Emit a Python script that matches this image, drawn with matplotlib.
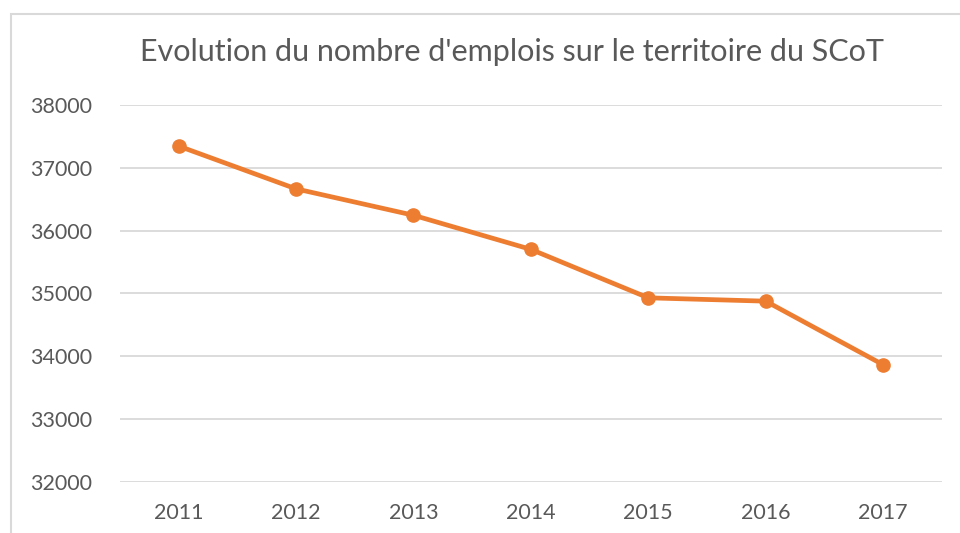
import matplotlib.pyplot as plt
from matplotlib.patches import Rectangle

annees = ["2011", "2012", "2013", "2014", "2015", "2016", "2017"]
emplois = [37346, 36665, 36245, 35702, 34931, 34878, 33867]
graduations = [32000, 33000, 34000, 35000, 36000, 37000, 38000]

gris = "#595959"
orange = "#ED7D31"

plt.rcParams['font.family'] = ['Lato', 'DejaVu Sans']

fig = plt.figure(figsize=(9.6, 5.33), dpi=100)
ax = fig.add_axes([0.125, 0.0957, 0.856, 0.7073])

# cadre du graphique (bord haut et gauche visibles)
fig.patches.append(Rectangle((11 / 960, -0.1), 1.2, 1.1 - 14 / 533,
                             transform=fig.transFigure, fill=False,
                             edgecolor="#D9D9D9", linewidth=1.5))

x = range(len(annees))
ax.plot(x, emplois, color=orange, linewidth=3.4, marker="o", markersize=9.5,
        solid_capstyle="round", zorder=3)

ax.set_xlim(-0.5, len(annees) - 0.5)
ax.set_ylim(32000, 38000)
ax.set_xticks(list(x))
ax.set_xticklabels(annees)
ax.set_yticks(graduations)
ax.yaxis.grid(True, color="#D9D9D9", linewidth=1.3)
ax.set_axisbelow(True)
for s in ax.spines.values():
    s.set_visible(False)
ax.tick_params(axis='both', length=0, labelsize=15.5, labelcolor=gris)
ax.tick_params(axis='y', pad=20)
ax.tick_params(axis='x', pad=15)

fig.text(0.533, 0.902, "Evolution du nombre d'emplois sur le territoire du SCoT",
         ha="center", va="center", fontsize=22, color=gris)

fig.savefig("out.png", dpi=100)
